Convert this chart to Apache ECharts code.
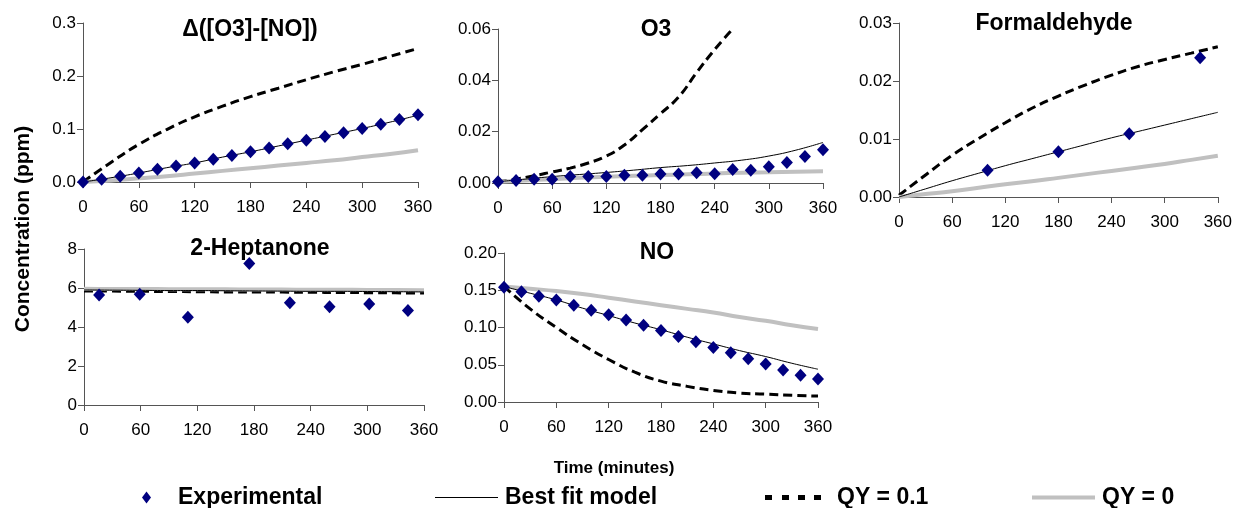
<!DOCTYPE html>
<html>
<head>
<meta charset="utf-8">
<script src="https://cdn.jsdelivr.net/npm/echarts@6/dist/echarts.min.js"></script>
<style>
  html, body { margin: 0; padding: 0; background: #fff; }
  #main { width: 1235px; height: 508px; }
</style>
</head>
<body>
<div id="main"></div>
<script>
// time grids (minutes)
const expTimes = [0, 20, 40, 60, 80, 100, 120, 140, 160, 180, 200, 220, 240, 260, 280, 300, 320, 340, 360];
const modelTimes = [0, 30, 60, 90, 120, 150, 180, 210, 240, 270, 300, 330, 360];
const o3DashTimes = [0, 20, 40, 60, 80, 100, 120, 140, 160, 180, 200, 220, 240, 260];
const hchoTimes = [100, 180, 260, 340];
const heptTimes = [16, 59, 110, 175, 218, 260, 302, 343];

// Δ([O3]-[NO])
const dO3NOExp = [0, 0.005, 0.011, 0.017, 0.024, 0.030, 0.036, 0.043, 0.050, 0.057, 0.064, 0.072, 0.079, 0.086, 0.093, 0.101, 0.109, 0.118, 0.127];
const dO3NOFit = [0, 0.008, 0.017, 0.027, 0.036, 0.047, 0.057, 0.068, 0.079, 0.090, 0.101, 0.113, 0.126];
const dO3NOQY01 = [0, 0.037, 0.071, 0.099, 0.123, 0.143, 0.161, 0.177, 0.193, 0.208, 0.222, 0.237, 0.252];
const dO3NOQY0 = [0, 0.003, 0.007, 0.011, 0.016, 0.021, 0.026, 0.031, 0.036, 0.041, 0.047, 0.053, 0.060];

// O3
const o3Exp = [0.0005, 0.001, 0.0015, 0.0015, 0.0025, 0.0025, 0.0025, 0.003, 0.003, 0.0035, 0.0035, 0.004, 0.0036, 0.0053, 0.005, 0.0063, 0.008, 0.0103, 0.013];
const o3Fit = [0.0005, 0.0015, 0.0025, 0.0033, 0.0041, 0.005, 0.006, 0.0068, 0.0078, 0.0089, 0.0105, 0.0128, 0.0158];
const o3QY01 = [0.0005, 0.0015, 0.0028, 0.0043, 0.0058, 0.0078, 0.0105, 0.0148, 0.0208, 0.027, 0.0335, 0.043, 0.052, 0.060];
const o3QY0 = [0.0005, 0.001, 0.0015, 0.002, 0.0024, 0.0028, 0.0031, 0.0034, 0.0037, 0.004, 0.0042, 0.0044, 0.0046];

// Formaldehyde
const hchoExp = [0.0046, 0.0078, 0.0109, 0.024];
const hchoFit = [0, 0.0014, 0.0028, 0.0041, 0.0054, 0.0066, 0.0078, 0.009, 0.0102, 0.0113, 0.0124, 0.0135, 0.0146];
const hchoQY01 = [0.0003, 0.0038, 0.0072, 0.0101, 0.0128, 0.0153, 0.0174, 0.0193, 0.021, 0.0225, 0.0237, 0.0248, 0.0259];
const hchoQY0 = [0, 0.0005, 0.001, 0.0016, 0.0022, 0.0027, 0.0033, 0.0039, 0.0045, 0.0051, 0.0057, 0.0064, 0.0071];

// 2-Heptanone
const heptExp = [5.64, 5.68, 4.5, 7.26, 5.25, 5.04, 5.18, 4.84];
const heptFit = [5.9, 5.89, 5.88, 5.87, 5.87, 5.86, 5.85, 5.84, 5.83, 5.83, 5.82, 5.81, 5.8];
const heptQY01 = [5.85, 5.84, 5.83, 5.82, 5.81, 5.8, 5.8, 5.79, 5.78, 5.77, 5.76, 5.75, 5.74];
const heptQY0 = [5.96, 5.95, 5.95, 5.94, 5.93, 5.93, 5.92, 5.92, 5.91, 5.91, 5.9, 5.9, 5.89];

// NO
const noExp = [0.154, 0.148, 0.142, 0.137, 0.130, 0.123, 0.117, 0.110, 0.103, 0.096, 0.088, 0.081, 0.073, 0.066, 0.058, 0.051, 0.043, 0.036, 0.031];
const noFit = [0.155, 0.146, 0.137, 0.126, 0.116, 0.106, 0.097, 0.087, 0.078, 0.069, 0.061, 0.052, 0.044];
const noQY01 = [0.155, 0.125, 0.100, 0.077, 0.057, 0.040, 0.028, 0.021, 0.0155, 0.012, 0.0105, 0.009, 0.008];
const noQY0 = [0.155, 0.152, 0.149, 0.145, 0.140, 0.135, 0.130, 0.125, 0.120, 0.114, 0.109, 0.103, 0.098];

const FONT = '"Liberation Sans", Arial, sans-serif'

function pairs(xs, ys) {
    return ys.map(function(v, i) { return [xs[i], v] })
}

// panel layout: grid box + y axis scale
const panels = [
    { title: 'Δ([O3]-[NO])', tx: 250, ty: 30, grid: [83, 23, 335, 159], ymax: 0.3, yint: 0.1, dec: 1,
      exp: pairs(expTimes, dO3NOExp), fit: pairs(modelTimes, dO3NOFit), qy01: pairs(modelTimes, dO3NOQY01), qy0: pairs(modelTimes, dO3NOQY0) },
    { title: 'O3', tx: 656, ty: 30, grid: [498, 29, 325, 154], ymax: 0.06, yint: 0.02, dec: 2,
      exp: pairs(expTimes, o3Exp), fit: pairs(modelTimes, o3Fit), qy01: pairs(o3DashTimes, o3QY01), qy0: pairs(modelTimes, o3QY0) },
    { title: 'Formaldehyde', tx: 1054, ty: 24, grid: [899, 23, 320, 174], ymax: 0.03, yint: 0.01, dec: 2,
      exp: pairs(hchoTimes, hchoExp), fit: pairs(modelTimes, hchoFit), qy01: pairs(modelTimes, hchoQY01), qy0: pairs(modelTimes, hchoQY0) },
    { title: '2-Heptanone', tx: 260, ty: 249, grid: [84, 249, 340, 156], ymax: 8, yint: 2, dec: 0,
      exp: pairs(heptTimes, heptExp), fit: pairs(modelTimes, heptFit), qy01: pairs(modelTimes, heptQY01), qy0: pairs(modelTimes, heptQY0) },
    { title: 'NO', tx: 657, ty: 253, grid: [504, 253, 314, 149], ymax: 0.2, yint: 0.05, dec: 2,
      exp: pairs(expTimes, noExp), fit: pairs(modelTimes, noFit), qy01: pairs(modelTimes, noQY01), qy0: pairs(modelTimes, noQY0) }
]

let axisColor = '#555'
let grids = [], xAxes = [], yAxes = [], series = [], texts = []

panels.forEach(function(p, i) {
    grids.push({ left: p.grid[0], top: p.grid[1], width: p.grid[2], height: p.grid[3] })
    xAxes.push({
        gridIndex: i, type: 'value', min: 0, max: 360, interval: 60,
        axisLine: { show: true, onZero: false, lineStyle: { color: axisColor, width: 1 } },
        axisTick: { show: true, length: 6, lineStyle: { color: axisColor } },
        axisLabel: { color: '#000', fontSize: 17, fontFamily: FONT, margin: 17 },
        splitLine: { show: false }
    })
    yAxes.push({
        gridIndex: i, type: 'value', min: 0, max: p.ymax, interval: p.yint,
        axisLine: { show: true, lineStyle: { color: axisColor, width: 1 } },
        axisTick: { show: true, length: 6, lineStyle: { color: axisColor } },
        axisLabel: {
            color: '#000', fontSize: 17, fontFamily: FONT, margin: 7,
            formatter: function(v) { return v.toFixed(p.dec) }
        },
        splitLine: { show: false }
    })
    series.push({
        name: 'QY = 0.1', type: 'line', xAxisIndex: i, yAxisIndex: i, data: p.qy01,
        smooth: true, symbol: 'none', z: 2,
        itemStyle: { color: '#000' },
        lineStyle: { color: '#000', width: 3, type: [9, 5] }
    })
    series.push({
        name: 'QY = 0', type: 'line', xAxisIndex: i, yAxisIndex: i, data: p.qy0,
        smooth: true, symbol: 'none', z: 3,
        itemStyle: { color: '#c0c0c0' },
        lineStyle: { color: '#c0c0c0', width: 4 }
    })
    series.push({
        name: 'Best fit model', type: 'line', xAxisIndex: i, yAxisIndex: i, data: p.fit,
        smooth: true, symbol: 'none', z: 4,
        itemStyle: { color: '#000' },
        lineStyle: { color: '#000', width: 1 }
    })
    series.push({
        name: 'Experimental', type: 'scatter', xAxisIndex: i, yAxisIndex: i, data: p.exp,
        symbol: 'diamond', symbolSize: [12, 13], z: 5,
        itemStyle: { color: '#000080', opacity: 1 }
    })
    texts.push({
        type: 'text', x: p.tx, y: p.ty,
        style: { text: p.title, font: 'bold 23px ' + FONT, fill: '#000', align: 'center', verticalAlign: 'middle' }
    })
})

texts.push({
    type: 'text', x: 23, y: 229, rotation: Math.PI / 2,
    style: { text: 'Concentration (ppm)', font: 'bold 21px ' + FONT, fill: '#000', align: 'center', verticalAlign: 'middle' }
})
texts.push({
    type: 'text', x: 614, y: 468,
    style: { text: 'Time (minutes)', font: 'bold 17px ' + FONT, fill: '#000', align: 'center', verticalAlign: 'middle' }
})

let legendText = { color: '#000', fontSize: 23, fontWeight: 'bold', fontFamily: FONT }
let legends = [
    { data: ['Experimental'], left: 142, itemWidth: 9, itemHeight: 12, icon: 'diamond',
      itemStyle: { color: '#000080', opacity: 1 },
      textStyle: Object.assign({}, legendText, { padding: [0, 0, 0, 22] }) },
    { data: ['Best fit model'], left: 435, itemWidth: 63, itemHeight: 1,
      icon: 'path://M0,0H63V1H0Z', itemStyle: { color: '#000' },
      textStyle: Object.assign({}, legendText, { padding: [0, 0, 0, 2] }) },
    { data: ['QY = 0.1'], left: 765, itemWidth: 56, itemHeight: 5,
      icon: 'path://M0,0H7V5H0Z M17,0H24V5H17Z M33,0H40V5H33Z M49,0H56V5H49Z', itemStyle: { color: '#000' },
      textStyle: Object.assign({}, legendText, { padding: [0, 0, 0, 11] }) },
    { data: ['QY = 0'], left: 1032, itemWidth: 63, itemHeight: 4,
      icon: 'path://M0,0H63V4H0Z', itemStyle: { color: '#c0c0c0' },
      textStyle: Object.assign({}, legendText, { padding: [0, 0, 0, 2] }) }
]
legends.forEach(function(l) {
    l.selectedMode = false
    l.padding = 0
    l.top = 486
})

let myChart = echarts.init(document.getElementById('main'))
let option = {
    animation: false,
    backgroundColor: '#fff',
    grid: grids,
    xAxis: xAxes,
    yAxis: yAxes,
    legend: legends,
    series: series,
    graphic: texts
}
myChart.setOption(option)
</script>
</body>
</html>
